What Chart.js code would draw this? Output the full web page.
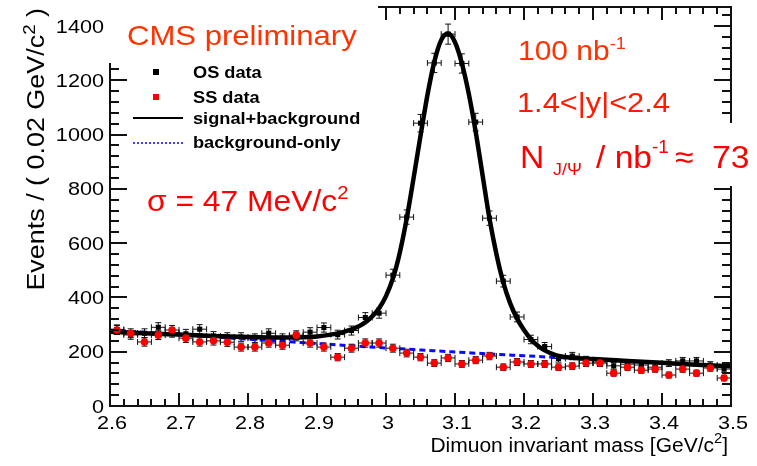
<!DOCTYPE html>
<html>
<head>
<meta charset="utf-8">
<script src="https://cdn.jsdelivr.net/npm/chart.js@4.4.1/dist/chart.umd.min.js"></script>
<style>
  html, body { margin: 0; padding: 0; background: #fff; }
</style>
</head>
<body>
<canvas id="myChart" width="757" height="466"></canvas>
<script>
// bin centres (GeV/c^2), 0.02 wide
const massBins = [2.61, 2.63, 2.65, 2.67, 2.69, 2.71, 2.73, 2.75, 2.77, 2.79,
  2.81, 2.83, 2.85, 2.87, 2.89, 2.91, 2.93, 2.95, 2.97, 2.99,
  3.01, 3.03, 3.05, 3.07, 3.09, 3.11, 3.13, 3.15, 3.17, 3.19,
  3.21, 3.23, 3.25, 3.27, 3.29, 3.31, 3.33, 3.35, 3.37, 3.39,
  3.41, 3.43, 3.45, 3.47, 3.49];
const osCounts = [282, 262, 268, 290, 270, 266, 283, 258, 254, 254,
  250, 268, 250, 256, 272, 289, 263, 278, 326, 342,
  482, 696, 1042, 1264, 1370, 1262, 1046, 692, 460, 328,
  245, 219, 175, 184, 170, 162, 148, 154, 151, 143,
  158, 166, 166, 151, 136];
const ssCounts = [280, 268, 236, 261, 280, 250, 236, 240, 235, 217,
  217, 232, 224, 261, 232, 217, 180, 213, 232, 232,
  213, 195, 180, 158, 177, 155, 169, 184, 143, 162,
  155, 155, 143, 147, 158, 158, 121, 143, 132, 136,
  114, 136, 121, 140, 103];
// signal+background fit
const fitMass = [2.60, 2.65, 2.70, 2.75, 2.80, 2.85, 2.88, 2.90, 2.92, 2.94,
  2.96, 2.97, 2.98, 2.99, 3.00, 3.01, 3.02, 3.03, 3.04, 3.05,
  3.06, 3.07, 3.08, 3.09, 3.10, 3.11, 3.12, 3.13, 3.14, 3.15,
  3.16, 3.17, 3.18, 3.19, 3.20, 3.21, 3.22, 3.23, 3.24, 3.25,
  3.27, 3.30, 3.35, 3.40, 3.45, 3.50];
const fitValues = [274, 268, 263, 258, 254, 252, 253, 256, 263, 274,
  293, 308, 330, 360, 405, 470, 565, 690, 840, 995,
  1145, 1268, 1348, 1372, 1340, 1262, 1150, 1010, 850, 690,
  560, 455, 378, 322, 280, 246, 222, 205, 193, 184,
  178, 173, 166, 159, 152, 146];
// background-only
const bkgMass = [2.60, 2.70, 2.80, 2.90, 3.00, 3.10, 3.20, 3.30, 3.40, 3.50];
const bkgValues = [280, 263, 246, 230, 214, 199, 185, 172, 158, 145];

const xTicks = [2.6, 2.7, 2.8, 2.9, 3.0, 3.1, 3.2, 3.3, 3.4, 3.5];
const yTicks = [0, 200, 400, 600, 800, 1000, 1200, 1400];
const binHalfWidth = 0.01;

const FONT = "'Liberation Sans', Arial, Helvetica, sans-serif";

const drawRuns = (ctx, runs, x, y, o) => {
  ctx.save();
  ctx.translate(x, y);
  if (o.rotate) ctx.rotate(o.rotate);
  ctx.scale(o.sx || 1, 1);
  ctx.fillStyle = o.color || '#000';
  ctx.textBaseline = 'alphabetic';
  ctx.textAlign = 'left';
  const fontOf = (r) => `${o.bold ? 'bold ' : ''}${r.size}px ${FONT}`;
  let total = 0;
  runs.forEach((r) => { ctx.font = fontOf(r); total += ctx.measureText(r.t).width; });
  let cx = o.align === 'right' ? -total : o.align === 'center' ? -total / 2 : 0;
  runs.forEach((r) => {
    ctx.font = fontOf(r);
    ctx.fillText(r.t, cx, r.dy || 0);
    cx += ctx.measureText(r.t).width;
  });
  ctx.restore();
};

// ROOT style frame with ticks pointing inwards
const drawFrame = (chart) => {
  const { ctx, chartArea: a, scales: { x, y } } = chart;
  const L = Math.round(a.left), R = Math.round(a.right);
  const T = Math.round(a.top), B = Math.round(a.bottom);
  ctx.save();
  ctx.fillStyle = '#111';
  ctx.fillRect(L - 1, T - 1, 2, B - T + 2);
  ctx.fillRect(R - 1, T - 1, 2, B - T + 2);
  ctx.fillRect(L - 1, T - 1, R - L + 2, 2);
  ctx.fillRect(L - 1, B - 1, R - L + 2, 2);
  for (let i = 0; i * 40 <= 1470; i++) {
    const py = Math.round(y.getPixelForValue(i * 40));
    const len = i % 5 === 0 ? 17 : 9;
    ctx.fillRect(L, py - 1, len, 2);
    ctx.fillRect(R - len, py - 1, len, 2);
  }
  for (let i = 0; i <= 45; i++) {
    const px = Math.round(x.getPixelForValue(2.6 + i * 0.02));
    const len = i % 5 === 0 ? 13 : 7;
    ctx.fillRect(px - 1, B - len, 2, len);
    ctx.fillRect(px - 1, T, 2, len);
  }
  ctx.restore();
};

const errorBars = {
  id: 'errorBars',
  beforeDatasetDraw(chart, args) {
    const ds = chart.data.datasets[args.index];
    if (!ds.errorBars) return;
    const { ctx, scales: { x, y } } = chart;
    ctx.save();
    ctx.strokeStyle = '#111';
    ctx.lineWidth = 1;
    ctx.beginPath();
    ds.data.forEach((p) => {
      const px = x.getPixelForValue(p.x);
      const py = y.getPixelForValue(p.y);
      const x0 = x.getPixelForValue(p.x - binHalfWidth);
      const x1 = x.getPixelForValue(p.x + binHalfWidth);
      const e = Math.sqrt(p.y);
      const y0 = y.getPixelForValue(p.y - e);
      const y1 = y.getPixelForValue(p.y + e);
      ctx.moveTo(x0, py); ctx.lineTo(x1, py);
      ctx.moveTo(px, y0); ctx.lineTo(px, y1);
      ctx.moveTo(x0, py - 3); ctx.lineTo(x0, py + 3);
      ctx.moveTo(x1, py - 3); ctx.lineTo(x1, py + 3);
      ctx.moveTo(px - 3, y0); ctx.lineTo(px + 3, y0);
      ctx.moveTo(px - 3, y1); ctx.lineTo(px + 3, y1);
    });
    ctx.stroke();
    ctx.restore();
  }
};

const texts = {
  id: 'texts',
  afterDraw(chart) {
    const { ctx, scales: { x, y } } = chart;
    drawFrame(chart);
    // white boxes behind the big labels (they hide the frame there)
    ctx.fillStyle = '#fff';
    ctx.fillRect(106, 0, 272, 63);
    ctx.fillRect(505, 123, 252, 63);

    // tick labels
    yTicks.forEach((v) => {
      drawRuns(ctx, [{ t: String(v), size: 18.5 }], 104, y.getPixelForValue(v) + 6.6, { align: 'right', sx: 1.17 });
    });
    xTicks.forEach((v) => {
      drawRuns(ctx, [{ t: String(v), size: 18.5 }], x.getPixelForValue(v) + 2, 429, { align: 'center', sx: 1.17 });
    });

    // axis titles
    drawRuns(ctx, [{ t: 'Dimuon invariant mass [GeV/c', size: 20 }, { t: '2', size: 14, dy: -9 }, { t: ']', size: 20 }],
      728, 452, { align: 'right', sx: 1.05 });
    drawRuns(ctx, [{ t: 'Events / ( 0.02 GeV/c', size: 23 }, { t: '2', size: 16, dy: -9 }, { t: ' )', size: 23 }],
      44, 8, { align: 'right', sx: 1.17, rotate: -Math.PI / 2 });

    // legend
    ctx.save();
    ctx.fillStyle = '#000';
    ctx.fillRect(153, 69, 6, 6);
    ctx.fillStyle = '#ff0000';
    ctx.fillRect(153, 94, 6, 6);
    ctx.strokeStyle = '#000';
    ctx.lineWidth = 2;
    ctx.beginPath(); ctx.moveTo(133, 118); ctx.lineTo(183, 118); ctx.stroke();
    ctx.strokeStyle = '#0000ff';
    ctx.lineWidth = 1.5;
    ctx.setLineDash([2, 2]);
    ctx.beginPath(); ctx.moveTo(133, 143); ctx.lineTo(183, 143); ctx.stroke();
    ctx.restore();
    const leg = [['OS data', 78], ['SS data', 103], ['signal+background', 124], ['background-only', 148]];
    leg.forEach(([t, by]) => drawRuns(ctx, [{ t, size: 17 }], 193, by, { bold: true, sx: 1.07 }));

    // annotations
    drawRuns(ctx, [{ t: 'CMS preliminary', size: 28 }], 127, 45, { color: '#ff3300', sx: 1.11 });
    drawRuns(ctx, [{ t: '100 nb', size: 28 }, { t: '-1', size: 17, dy: -11 }], 518, 60, { color: '#ff3300', sx: 1.07 });
    drawRuns(ctx, [{ t: '1.4<|y|<2.4', size: 27 }], 517, 112, { color: '#ff1a00', sx: 1.14 });
    drawRuns(ctx, [{ t: 'N', size: 32 }], 520, 168, { color: '#ff0000', sx: 1.05 });
    drawRuns(ctx, [{ t: 'J/Ψ', size: 17 }], 553, 175, { color: '#ff0000', sx: 1.05 });
    drawRuns(ctx, [{ t: '/ nb', size: 32 }, { t: '-1', size: 18, dy: -15 }], 596, 168, { color: '#ff0000', sx: 1.05 });
    drawRuns(ctx, [{ t: '≈', size: 32 }], 675, 168, { color: '#ff0000', sx: 1.05 });
    drawRuns(ctx, [{ t: '73', size: 32 }], 712, 168, { color: '#ff0000', sx: 1.05 });
    drawRuns(ctx, [{ t: 'σ = 47 MeV/c', size: 30 }, { t: '2', size: 19, dy: -12 }], 147, 211, { color: '#ff0000', sx: 1.06 });
  }
};

const toPoints = (xs, ys) => xs.map((v, i) => ({ x: v, y: ys[i] }));

const config = {
  type: 'scatter',
  data: {
    datasets: [
      {
        label: 'SS data',
        data: toPoints(massBins, ssCounts),
        pointStyle: 'circle',
        pointRadius: 3.8,
        backgroundColor: '#ff0000',
        borderWidth: 0,
        errorBars: true,
        order: 0
      },
      {
        label: 'signal+background',
        data: toPoints(fitMass, fitValues),
        showLine: true,
        pointRadius: 0,
        borderColor: '#000',
        borderWidth: 4.5,
        cubicInterpolationMode: 'monotone',
        order: 1
      },
      {
        label: 'background-only',
        data: toPoints(bkgMass, bkgValues),
        showLine: true,
        pointRadius: 0,
        borderColor: '#0a0aff',
        borderWidth: 3,
        borderDash: [6, 4],
        cubicInterpolationMode: 'monotone',
        order: 2
      },
      {
        label: 'OS data',
        data: toPoints(massBins, osCounts),
        pointStyle: 'rect',
        pointRadius: 3.6,
        backgroundColor: '#000',
        borderWidth: 0,
        errorBars: true,
        order: 3
      }
    ]
  },
  options: {
    responsive: false,
    animation: false,
    devicePixelRatio: 1,
    layout: { padding: { left: 110, top: 7, right: 26, bottom: 60 } },
    plugins: { legend: { display: false }, tooltip: { enabled: false } },
    scales: {
      x: { type: 'linear', min: 2.6, max: 3.5, display: false },
      y: { type: 'linear', min: 0, max: 1470, display: false }
    }
  },
  plugins: [errorBars, texts]
};

new Chart(document.querySelector('#myChart'), config);
</script>
</body>
</html>
